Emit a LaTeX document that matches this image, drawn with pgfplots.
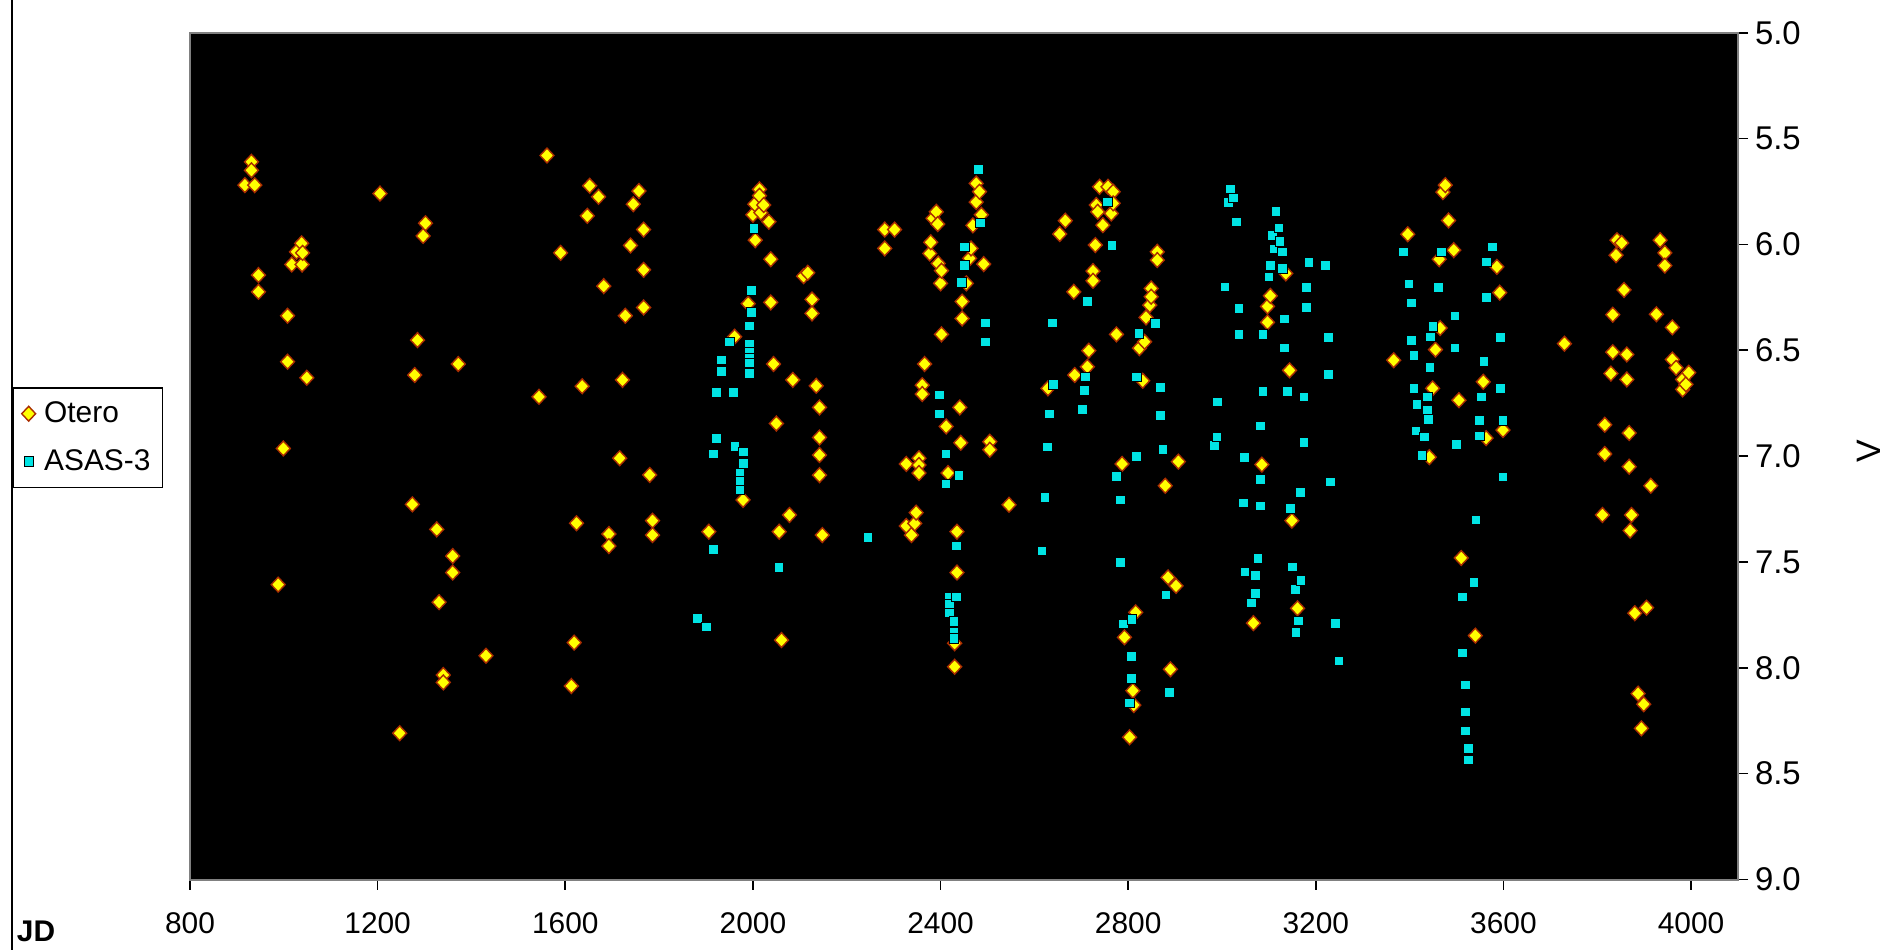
\documentclass[border=0pt]{standalone}
\usepackage{fontspec}
\setmainfont{Liberation Sans}
\usepackage{pgfplots}
\pgfplotsset{compat=1.18}
\usepackage{pgfplotstable}
\definecolor{oterofill}{RGB}{255,255,0}
\definecolor{oterodraw}{RGB}{170,45,0}
\definecolor{asasfill}{RGB}{0,228,228}
\definecolor{axisgray}{RGB}{128,128,128}

\pgfplotstableread{
jd v
917 5.72
931 5.61
931 5.65
938 5.72
946 6.145
946 6.224
988 7.607
999 6.964
1008 6.337
1008 6.554
1017 6.095
1027 6.035
1038 5.995
1039 6.095
1040 6.04
1049 6.63
1205 5.76
1247 8.309
1274 7.228
1279 6.617
1285 6.452
1297 5.96
1302 5.90
1326 7.346
1331 7.69
1340 8.034
1340 8.069
1360 7.472
1360 7.55
1372 6.565
1431 7.943
1544 6.72
1561 5.58
1590 6.04
1613 8.086
1619 7.881
1624 7.317
1636 6.67
1647 5.865
1652 5.723
1671 5.775
1682 6.197
1693 7.368
1693 7.425
1716 7.01
1722 6.64
1728 6.337
1739 6.005
1745 5.81
1757 5.748
1767 5.93
1767 6.12
1767 6.298
1780 7.089
1786 7.305
1786 7.373
1906 7.357
1961 6.436
1979 7.207
1990 6.28
2000 5.86
2004 5.81
2005 5.98
2014 5.74
2014 5.77
2017 5.85
2023 5.814
2034 5.893
2038 6.07
2038 6.274
2044 6.565
2050 6.846
2056 7.357
2061 7.869
2078 7.278
2085 6.64
2108 6.15
2117 6.134
2126 6.26
2126 6.326
2135 6.668
2142 6.77
2142 6.912
2142 6.995
2142 7.09
2148 7.373
2281 5.93
2302 5.93
2281 6.019
2327 7.037
2327 7.33
2338 7.373
2345 7.318
2348 7.267
2354 7.01
2354 7.042
2354 7.08
2361 6.665
2361 6.707
2366 6.565
2377 6.043
2379 5.99
2384 5.877
2391 5.846
2394 5.904
2395 6.09
2400 6.184
2402 6.124
2402 6.425
2412 6.86
2416 7.08
2430 7.884
2430 7.995
2435 7.357
2435 7.55
2441 6.77
2443 6.937
2446 6.27
2446 6.35
2455 6.184
2462 6.066
2465 6.019
2469 5.91
2476 5.712
2476 5.80
2483 5.751
2487 5.86
2492 6.093
2505 6.932
2505 6.97
2546 7.23
2629 6.68
2654 5.951
2666 5.888
2684 6.224
2686 6.617
2713 6.578
2716 6.502
2725 6.126
2725 6.172
2730 6.003
2732 5.814
2735 5.846
2739 5.728
2746 5.909
2757 5.728
2764 5.854
2768 5.751
2768 5.806
2775 6.425
2787 7.037
2792 7.856
2803 8.328
2810 8.108
2812 8.176
2816 7.738
2824 6.49
2831 6.644
2835 6.46
2838 6.345
2846 6.287
2849 6.208
2849 6.247
2862 6.035
2862 6.074
2879 7.14
2885 7.573
2890 8.007
2902 7.613
2907 7.026
3067 7.789
3085 7.04
3097 6.293
3097 6.368
3103 6.243
3136 6.137
3144 6.595
3149 7.305
3161 7.719
3366 6.547
3396 5.952
3442 7.005
3449 6.68
3455 6.497
3463 6.07
3465 6.395
3471 5.753
3476 5.72
3483 5.887
3494 6.027
3505 6.736
3510 7.481
3540 7.848
3557 6.649
3563 6.915
3586 6.106
3592 6.228
3599 6.877
3730 6.469
3811 7.278
3816 6.852
3816 6.99
3829 6.61
3833 6.332
3833 6.509
3840 6.051
3842 5.98
3852 5.993
3857 6.215
3863 6.52
3863 6.638
3868 6.891
3868 7.05
3870 7.352
3873 7.278
3880 7.742
3887 8.122
3894 8.286
3899 8.172
3905 7.716
3914 7.14
3926 6.33
3934 5.98
3944 6.04
3944 6.1
3960 6.392
3960 6.544
3968 6.583
3982 6.638
3982 6.685
3989 6.661
3995 6.606
}\otero

\pgfplotstableread{
jd v
1881 7.766
1901 7.806
1915 6.99
1915 7.44
1922 6.70
1922 6.916
1933 6.546
1933 6.60
1950 6.46
1958 6.70
1961 6.953
1972 7.08
1972 7.12
1972 7.16
1979 6.98
1979 7.034
1992 6.384
1992 6.47
1992 6.507
1992 6.539
1992 6.56
1992 6.61
1997 6.216
1997 6.32
2002 5.924
2055 7.525
2245 7.384
2397 6.71
2397 6.80
2411 6.99
2411 7.13
2419 7.664
2419 7.70
2419 7.74
2428 7.78
2428 7.83
2428 7.86
2434 7.424
2434 7.664
2439 7.09
2444 6.18
2450 6.011
2450 6.10
2480 5.646
2485 5.898
2496 6.37
2496 6.46
2616 7.448
2622 7.195
2628 6.956
2632 6.80
2638 6.37
2640 6.66
2702 6.778
2707 6.688
2708 6.625
2713 6.27
2755 5.798
2765 6.003
2775 7.094
2783 7.207
2783 7.503
2790 7.793
2803 8.165
2806 7.947
2806 8.05
2808 7.77
2817 6.625
2817 7.0
2823 6.42
2858 6.373
2868 6.676
2869 6.806
2874 6.969
2880 7.656
2887 8.116
2984 6.95
2989 6.909
2990 6.743
3006 6.2
3013 5.80
3018 5.738
3024 5.78
3030 5.894
3036 6.301
3036 6.426
3045 7.22
3048 7.005
3049 7.547
3063 7.692
3071 7.563
3071 7.648
3076 7.484
3081 6.857
3081 7.109
3081 7.234
3087 6.426
3087 6.693
3100 6.153
3103 6.098
3107 5.957
3110 6.02
3115 5.843
3121 5.922
3123 5.985
3128 6.035
3128 6.113
3133 6.351
3133 6.489
3139 6.693
3145 7.247
3150 7.523
3156 7.628
3157 7.831
3162 7.778
3167 7.172
3168 7.586
3174 6.719
3174 6.935
3180 6.203
3180 6.298
3185 6.085
3220 6.098
3226 6.439
3226 6.614
3231 7.122
3242 7.789
3249 7.966
3386 6.035
3398 6.187
3404 6.275
3404 6.453
3409 6.525
3409 6.68
3413 6.88
3415 6.755
3426 6.997
3431 6.908
3438 6.719
3438 6.781
3440 6.825
3443 6.58
3444 6.437
3449 6.387
3461 6.203
3467 6.035
3496 6.337
3496 6.489
3499 6.943
3512 7.664
3512 7.93
3519 8.081
3519 8.208
3519 8.297
3525 8.38
3525 8.434
3537 7.597
3541 7.3
3548 6.83
3548 6.904
3553 6.719
3558 6.552
3564 6.082
3564 6.25
3576 6.012
3593 6.439
3593 6.68
3599 6.83
3599 7.097
}\asas

\begin{document}
\begin{tikzpicture}
\path[use as bounding box] (-95bp,-35.25bp) rectangle (853.5bp,439.75bp);
\fill[white] (-95bp,-35.25bp) rectangle (853.5bp,439.75bp);
\draw[black, line width=1bp] (-89bp,-35.25bp) -- (-89bp,439.75bp);
\begin{axis}[
  at={(0,0)}, anchor=south west,
  scale only axis, width=774bp, height=423.4bp,
  xmin=800, xmax=4100, ymin=5, ymax=9, y dir=reverse,
  xtick={800,1200,1600,2000,2400,2800,3200,3600,4000},
  xticklabels={800,1200,1600,2000,2400,2800,3200,3600,4000},
  ytick={5,5.5,6,6.5,7,7.5,8,8.5,9},
  yticklabels={5.0,5.5,6.0,6.5,7.0,7.5,8.0,8.5,9.0},
  yticklabel pos=right, ytick pos=right, xtick pos=bottom,
  tick align=outside, major tick length=5bp,
  tick style={black, line width=0.8bp},
  axis line style={axisgray, line width=1bp},
  axis background/.style={fill=black},
  xticklabel style={font=\fontsize{15}{18}\selectfont, yshift=-8bp},
  yticklabel style={font=\fontsize{16.5}{19}\selectfont},
  clip=false,
  legend cell align=left,
  legend image code/.code={\path[draw=none,fill=none] (1.25bp,-1bp) -- (10.95bp,1bp);
    \draw[mark repeat=2,mark phase=2,#1] plot coordinates {(0bp,0bp)(5.2bp,0bp)(12bp,0bp)};},
  legend style={at={(-0.115,0.5816)}, anchor=north west, draw=black, line width=0.8bp,
    fill=white, font=\fontsize{15}{18}\selectfont, inner xsep=4bp, inner ysep=5bp, row sep=8bp},
]
\addplot[only marks, mark=diamond*, mark size=3.7bp,
  mark options={xscale=1.25, fill=oterofill, draw=oterodraw, line width=0.7bp}]
  table[x=jd, y=v] {\otero};
\addlegendentry{Otero}
\addplot[only marks, mark=square*, mark size=2.4bp,
  mark options={fill=asasfill, draw=black, line width=0.3bp}]
  table[x=jd, y=v] {\asas};
\addlegendentry{ASAS-3}
\end{axis}
\node[font=\fontsize{15}{18}\selectfont\bfseries] at (-77bp,-26bp) {JD};
\node[font=\fontsize{17}{20}\selectfont, rotate=90] at (839.5bp,214.25bp) {V};
\end{tikzpicture}
\end{document}
